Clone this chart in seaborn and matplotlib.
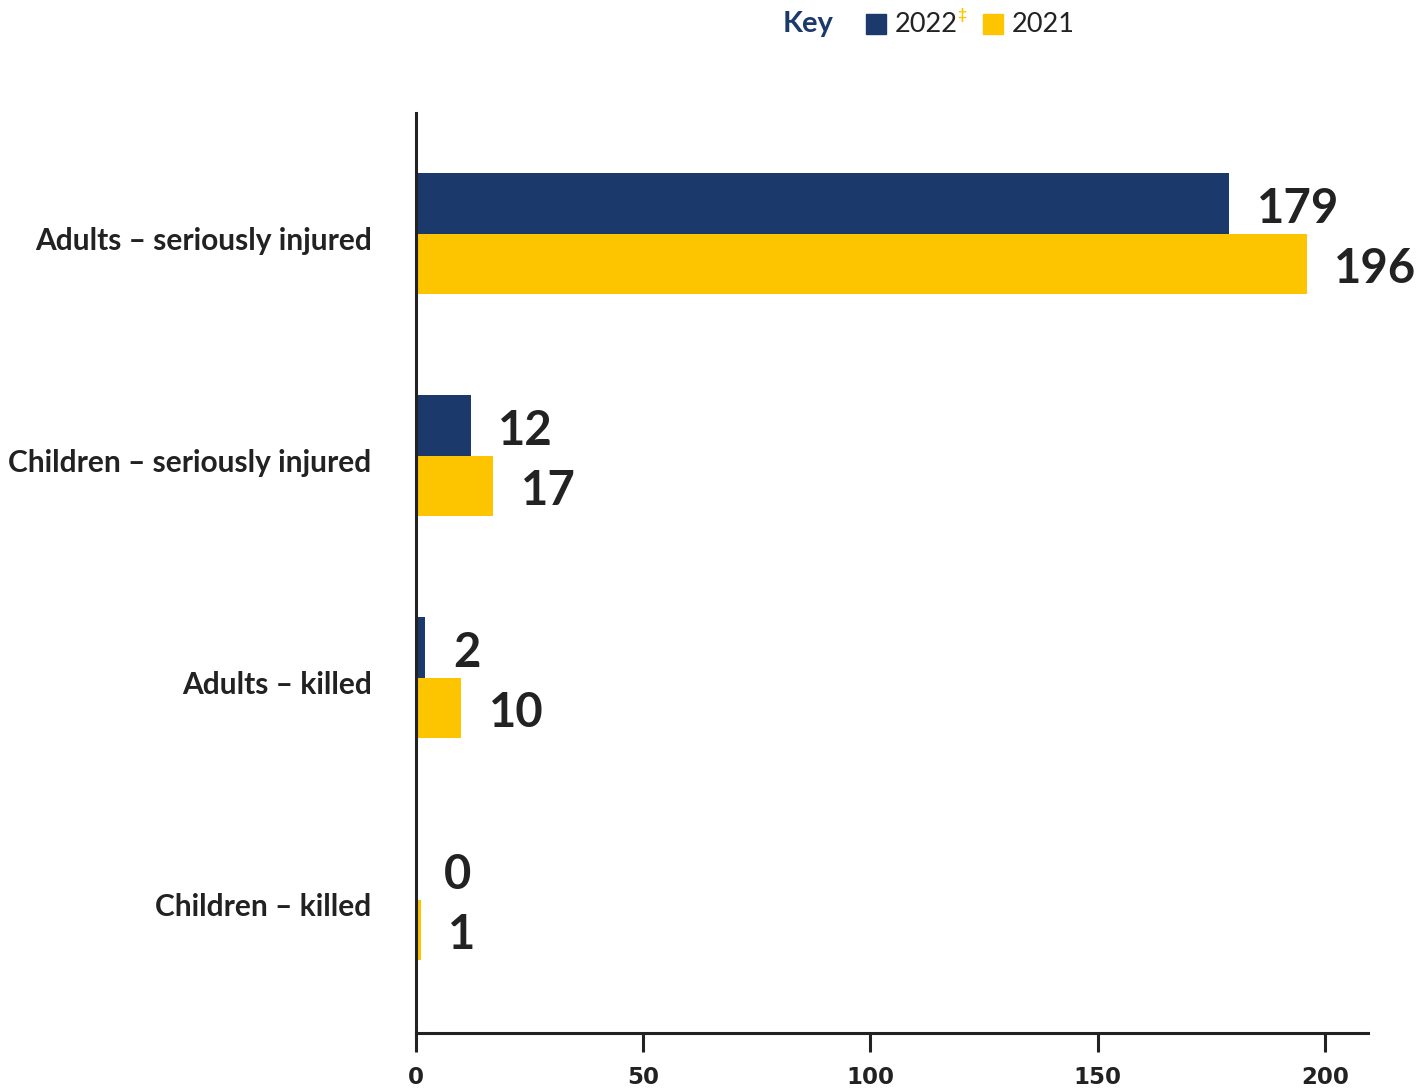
import matplotlib
matplotlib.use("Agg")
import matplotlib.pyplot as plt
from matplotlib.patches import Rectangle
from matplotlib.transforms import ScaledTranslation
import seaborn as sns
import pandas as pd

categories = ["Adults – seriously injured", "Children – seriously injured",
              "Adults – killed", "Children – killed"]
values_2022 = [179, 12, 2, 0]
values_2021 = [196, 17, 10, 1]
years = ["2022", "2021"]
x_ticks = [0, 50, 100, 150, 200]

NAVY = "#1b3a6b"
YELLOW = "#fdc500"
INK = "#222222"

sns.set_theme(style="white")
plt.rcParams["font.family"] = ["Lato", "DejaVu Sans"]

df = pd.DataFrame({
    "category": categories * 2,
    "count": values_2022 + values_2021,
    "year": [years[0]] * 4 + [years[1]] * 4,
})

fig = plt.figure(figsize=(14.2, 10.89), dpi=100)
ax = fig.add_axes([416 / 1420, 1 - 1033 / 1089, (1368 - 416) / 1420, (1033 - 113) / 1089])

sns.barplot(data=df, y="category", x="count", hue="year", hue_order=years,
            order=categories, palette=[NAVY, YELLOW], orient="h",
            width=0.545, saturation=1, legend=False, linewidth=0, ax=ax)

for container in ax.containers:
    texts = ax.bar_label(container, padding=20, fontsize=34, fontweight="bold",
                         color=INK, fontfamily=["Lato", "DejaVu Sans"])
    for t in texts:
        dx, dy = t.xyann
        t.xyann = (dx, dy - 3.6)

ax.set_xlim(0, 209.5)
ax.set_ylim(3.6, -0.545)
ax.set_xticks(x_ticks)
ax.set_xticklabels([str(t) for t in x_ticks])
ax.set_xlabel("")
ax.set_ylabel("")

sns.despine(ax=ax)
for side in ("left", "bottom"):
    ax.spines[side].set_color(INK)
    ax.spines[side].set_linewidth(2.2)

ax.tick_params(axis="x", length=14, width=2.2, color=INK, pad=10,
               direction="out", bottom=True)
ax.tick_params(axis="y", length=0, pad=32)
for lbl in ax.get_xticklabels():
    lbl.set_fontfamily(["Liberation Sans Narrow", "DejaVu Sans"])
    lbl.set_fontweight("bold")
    lbl.set_fontsize(16.5)
    lbl.set_color(INK)
shift_down = ScaledTranslation(0, -5 / 100, fig.dpi_scale_trans)
for lbl in ax.get_yticklabels():
    lbl.set_fontweight("bold")
    lbl.set_fontsize(21.5)
    lbl.set_color(INK)
    lbl.set_transform(lbl.get_transform() + shift_down)

# Key row along the top
W, H = 1420, 1089
yc = 1 - 24 / H
fig.text(783 / W, yc, "Key", fontsize=21, fontweight="bold", color=NAVY,
         va="center", ha="left")
fig.patches.append(Rectangle((866 / W, 1 - 34 / H), 20 / W, 20 / H,
                             transform=fig.transFigure, color=NAVY))
fig.text(895 / W, yc, years[0], fontsize=19.5, color=INK, va="center", ha="left")
fig.text(957 / W, 1 - 15 / H, "‡", fontsize=11, color=YELLOW, fontweight="bold",
         va="center", ha="left")
fig.patches.append(Rectangle((983 / W, 1 - 34 / H), 20 / W, 20 / H,
                             transform=fig.transFigure, color=YELLOW))
fig.text(1012 / W, yc, years[1], fontsize=19.5, color=INK, va="center", ha="left")

fig.savefig("out.png", dpi=100)
